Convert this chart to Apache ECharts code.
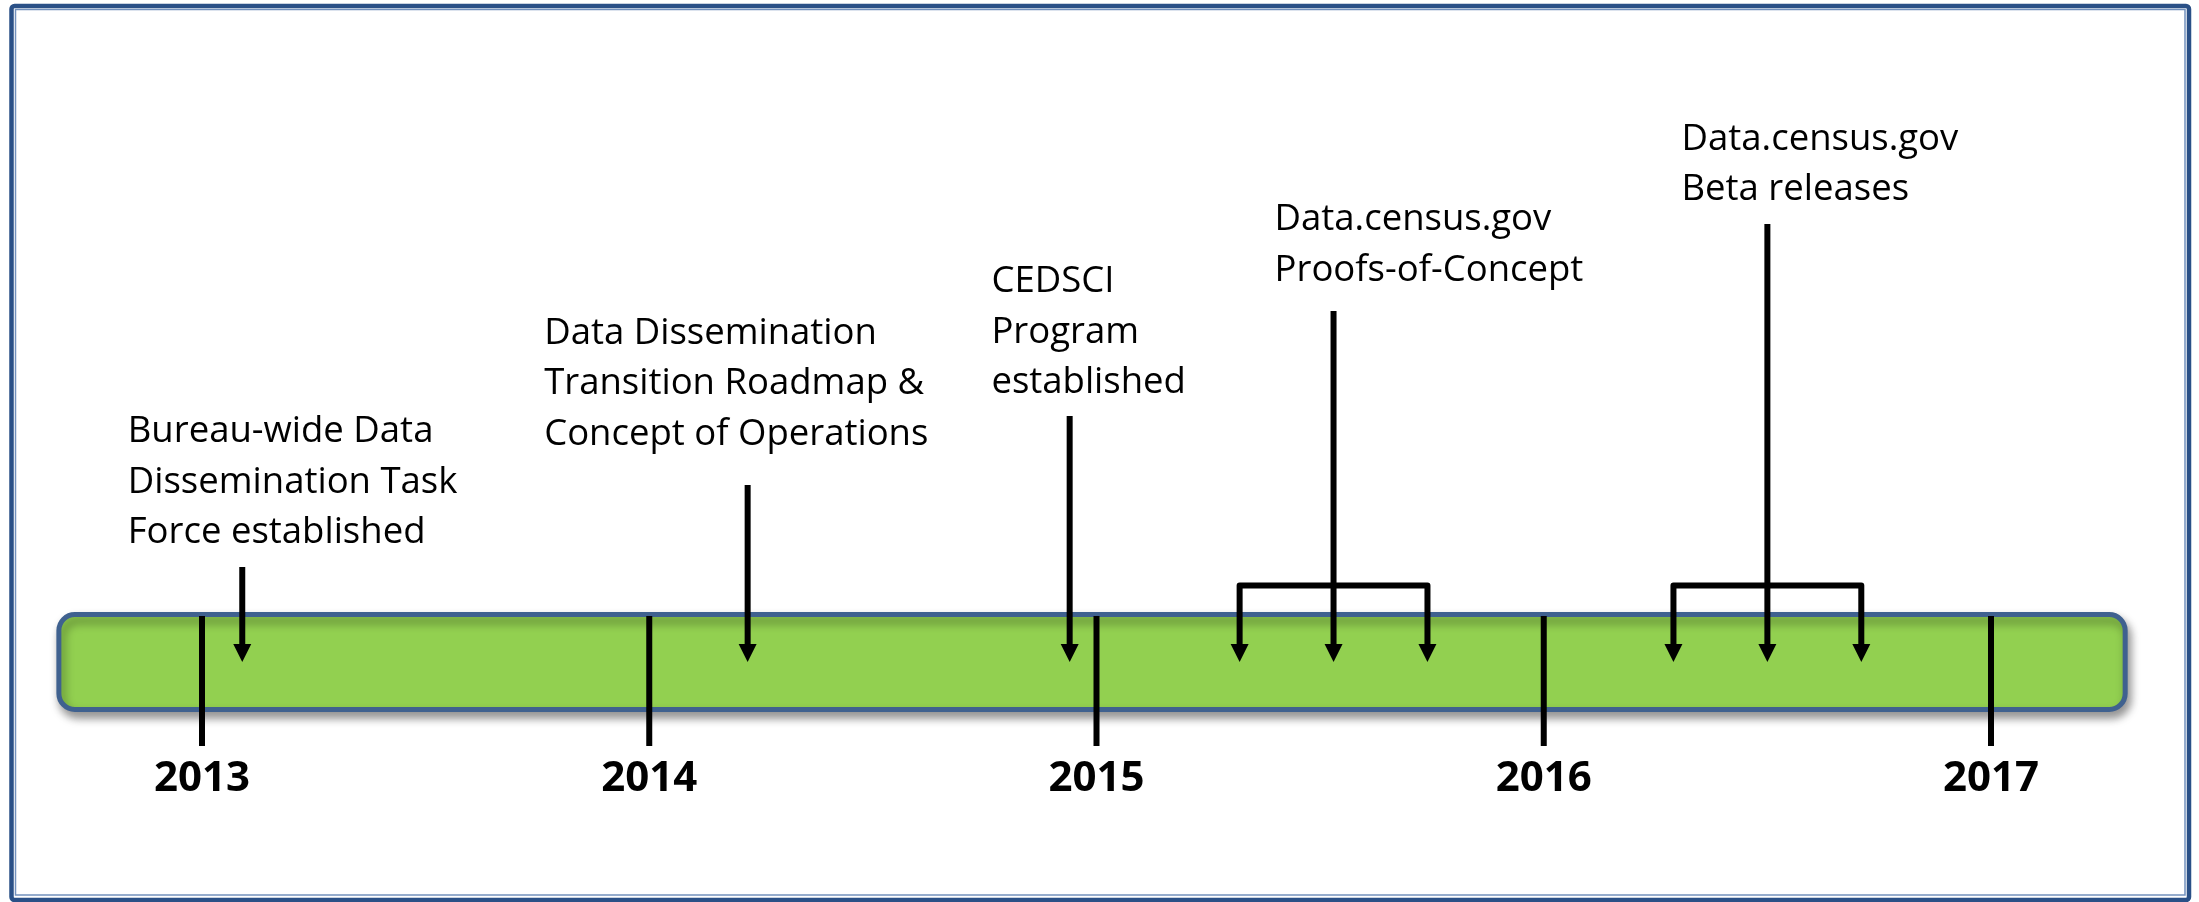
<!DOCTYPE html>
<html>
<head>
<meta charset="utf-8">
<title>Data dissemination timeline</title>
<script src="https://cdn.jsdelivr.net/npm/echarts@6/dist/echarts.min.js"></script>
<style>
    html, body { margin: 0; padding: 0; background: #fff; }
    #main { width: 2199px; height: 902px; }
</style>
</head>
<body>
<div id="main"></div>
<script>
// year marks on the timeline
var years = [2013, 2014, 2015, 2016, 2017];
// start / end of the green band, in years
var bandSpan = [2012.68, 2017.30];

// milestones (several dates = one bracket with several arrows)
var milestoneText = [
    'Bureau-wide Data\nDissemination Task\nForce established',
    'Data Dissemination\nTransition Roadmap &\nConcept of Operations',
    'CEDSCI\nProgram\nestablished',
    'Data.census.gov\nProofs-of-Concept',
    'Data.census.gov\nBeta releases'
];
var milestoneDates = [
    [2013.09],
    [2014.22],
    [2014.94],
    [2015.32, 2015.53, 2015.74],
    [2016.29, 2016.50, 2016.71]
];

// layout in axis units: y = 0 is the middle of the band, band runs -1..1
var stemTop = [1.9, 3.54, 4.92, 7.02, 8.76];
var labelLeft = [2012.834, 2013.765, 2014.765, 2015.398, 2016.308];
var labelFirstLine = [4.6, 6.57, 7.6, 8.84, 10.45];
var bracketLevel = 1.53;

var myChart = echarts.init(document.getElementById('main'));

function renderBand(params, api) {
    var a = api.coord([api.value(0), 0.95]);
    var b = api.coord([api.value(1), -0.95]);
    return {
        type: 'rect',
        shape: { x: a[0], y: a[1], width: b[0] - a[0], height: b[1] - a[1], r: 16 },
        style: {
            fill: '#92d050',
            stroke: '#3f618f',
            lineWidth: 5,
            shadowBlur: 10,
            shadowOffsetX: 3,
            shadowOffsetY: 6,
            shadowColor: 'rgba(0,0,0,0.4)'
        }
    };
}

function renderYear(params, api) {
    var yr = api.value(0);
    var t = api.coord([yr, 0.92]);
    var b = api.coord([yr, -1.68]);
    var l = api.coord([yr, -2.35]);
    return {
        type: 'group',
        children: [
            { type: 'line', shape: { x1: t[0], y1: t[1], x2: b[0], y2: b[1] },
              style: { stroke: '#000', lineWidth: 6 } },
            { type: 'text', style: { text: String(yr), x: l[0], y: l[1],
              font: 'bold 42px "Open Sans", sans-serif', fill: '#000',
              align: 'center', verticalAlign: 'middle' } }
        ]
    };
}

function renderMilestone(params, api) {
    var i = api.value(2);
    var dates = milestoneDates[i];
    var mid = dates[Math.floor(dates.length / 2)];
    var children = [];
    var top = api.coord([mid, stemTop[i]]);
    var tip = api.coord([mid, 0]);
    var headH = 18;
    children.push({ type: 'line', shape: { x1: top[0], y1: top[1], x2: top[0], y2: tip[1] - headH + 2 },
        style: { stroke: '#000', lineWidth: 6 } });
    if (dates.length > 1) {
        var l = api.coord([dates[0], bracketLevel]);
        var r = api.coord([dates[dates.length - 1], bracketLevel]);
        children.push({ type: 'polyline',
            shape: { points: [[l[0], tip[1] - headH + 2], [l[0], l[1]], [r[0], r[1]], [r[0], tip[1] - headH + 2]] },
            style: { stroke: '#000', lineWidth: 6, fill: null, lineJoin: 'round' } });
    }
    dates.forEach(function (d) {
        var p = api.coord([d, 0]);
        children.push({ type: 'polygon',
            shape: { points: [[p[0] - 9, p[1] - headH], [p[0] + 9, p[1] - headH], [p[0], p[1]]] },
            style: { fill: '#000' } });
    });
    var lt = api.coord([labelLeft[i], labelFirstLine[i]]);
    children.push({ type: 'text', style: {
        text: milestoneText[i], x: lt[0], y: lt[1] - 25.25,
        font: '36.5px "Open Sans", sans-serif', fill: '#000',
        align: 'left', verticalAlign: 'top', lineHeight: 50.5 } });
    return { type: 'group', children: children };
}

var option = {
    animation: false,
    backgroundColor: '#fff',
    graphic: [
        { type: 'rect', shape: { x: 11.5, y: 6, width: 2177.5, height: 894, r: 3 },
          style: { fill: null, stroke: '#2a5087', lineWidth: 4.5 }, z: 0 },
        { type: 'rect', shape: { x: 15.5, y: 9.5, width: 2169.5, height: 885.5 },
          style: { fill: null, stroke: '#7391bd', lineWidth: 1.5 }, z: 0 }
    ],
    grid: { left: 23.1, right: 29.1, top: 12, bottom: 40 },
    xAxis: { type: 'value', min: 2012.6, max: 2017.4, show: false },
    yAxis: { type: 'value', min: -4, max: 13, show: false },
    series: [
        {
            type: 'custom',
            renderItem: renderBand,
            clip: false,
            encode: { x: [0, 1], y: 2 },
            data: [[bandSpan[0], bandSpan[1], 0]],
            z: 1
        },
        {
            type: 'custom',
            renderItem: renderYear,
            clip: false,
            encode: { x: 0, y: 1 },
            data: years.map(function (y) { return [y, 0]; }),
            z: 2
        },
        {
            type: 'custom',
            renderItem: renderMilestone,
            clip: false,
            encode: { x: 0, y: 1 },
            data: milestoneDates.map(function (d, i) { return [d[Math.floor(d.length / 2)], stemTop[i], i]; }),
            z: 3
        }
    ]
};

myChart.setOption(option);
</script>
</body>
</html>
